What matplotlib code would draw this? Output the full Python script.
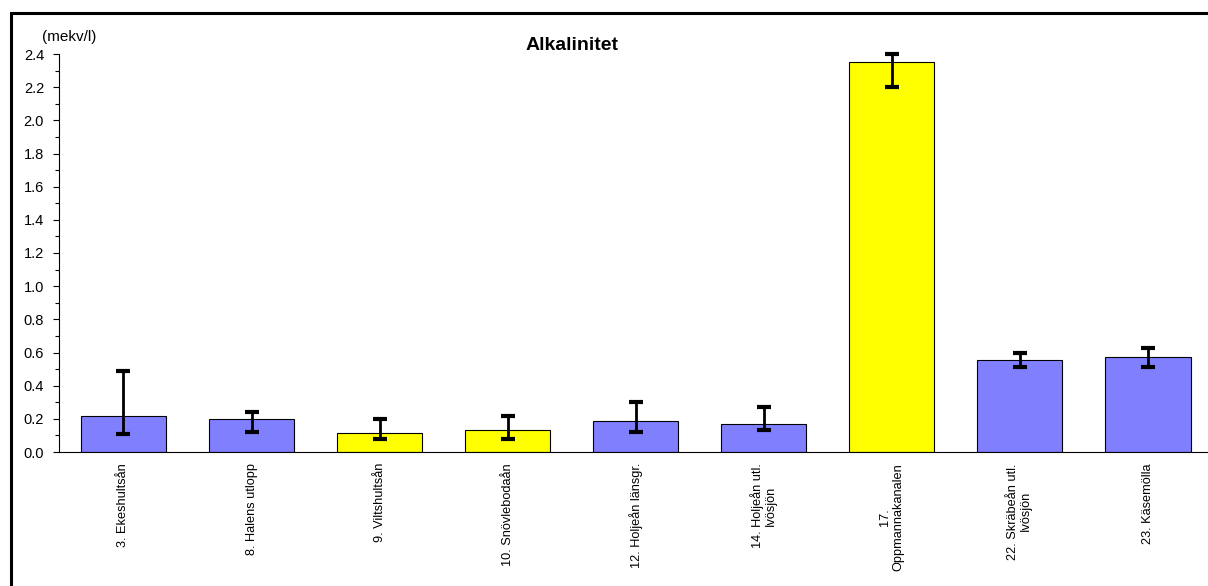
import matplotlib
matplotlib.use("Agg")
import matplotlib.pyplot as plt
from matplotlib.patches import Rectangle
from matplotlib.ticker import MultipleLocator

plt.rcParams['font.family'] = ['Liberation Sans', 'DejaVu Sans']

# data
stations = ["3. Ekeshultsån", "8. Halens utlopp", "9. Viltshultsån", "10. Snövlebodaån",
            "12. Holjeån länsgr.", "14. Holjeån utl.\nIvösjön", "17.\nOppmannakanalen",
            "22. Skräbeån utl.\nIvösjön", "23. Käsemölla"]
alk = [0.22, 0.20, 0.115, 0.13, 0.185, 0.17, 2.35, 0.555, 0.57]
alk_min = [0.11, 0.12, 0.08, 0.08, 0.12, 0.13, 2.20, 0.51, 0.51]
alk_max = [0.49, 0.24, 0.20, 0.22, 0.30, 0.27, 2.40, 0.60, 0.63]
colors = ["#8080FF", "#8080FF", "#FFFF00", "#FFFF00", "#8080FF", "#8080FF",
          "#FFFF00", "#8080FF", "#8080FF"]

W, H = 1208, 586
fig = plt.figure(figsize=(W / 100, H / 100), dpi=100)
ax = fig.add_axes([59.4 / W, (H - 452) / H, (1212 - 59.4) / W, 398 / H])

x = list(range(len(stations)))
ax.bar(x, alk, width=0.665, color=colors, edgecolor="black", linewidth=0.8, zorder=2)
yerr = [[v - lo for v, lo in zip(alk, alk_min)], [hi - v for v, hi in zip(alk, alk_max)]]
ax.errorbar(x, alk, yerr=yerr, fmt="none", ecolor="black", elinewidth=2,
            capsize=4.8, capthick=3, zorder=3, clip_on=False)

ax.set_xlim(-0.5, len(stations) - 0.5)
ax.set_ylim(0, 2.4)
ax.yaxis.set_major_locator(MultipleLocator(0.2))
ax.yaxis.set_minor_locator(MultipleLocator(0.1))
ax.set_yticklabels([f"{v:.1f}" for v in ax.get_yticks()], fontsize=10.5)
ax.tick_params(axis="y", which="major", length=4, width=0.8, pad=7, direction="out")
ax.tick_params(axis="y", which="minor", length=3, width=0.8, direction="out")

ax.set_xticks(x)
ax.set_xticklabels(stations, rotation=90, fontsize=9.2, va="top", ha="center",
                   multialignment="center", linespacing=1.1)
ax.tick_params(axis="x", length=0, pad=8)

ax.spines["top"].set_visible(False)
ax.spines["right"].set_visible(False)
ax.spines["left"].set_linewidth(0.8)
ax.spines["bottom"].set_linewidth(0.8)

fig.text(572 / W, 1 - 45 / H, "Alkalinitet", ha="center", va="center",
         fontsize=14, fontweight="bold")
fig.text(42 / W, 1 - 37 / H, "(mekv/l)", ha="left", va="center", fontsize=11)

# outer chart frame (only top and left are inside the picture)
fig.patches.append(Rectangle((10.5 / W, -0.1), 1.2, 1 - 12.5 / H + 0.1, fill=False,
                             edgecolor="black", linewidth=2.2, transform=fig.transFigure))

fig.savefig("out.png", dpi=100)
